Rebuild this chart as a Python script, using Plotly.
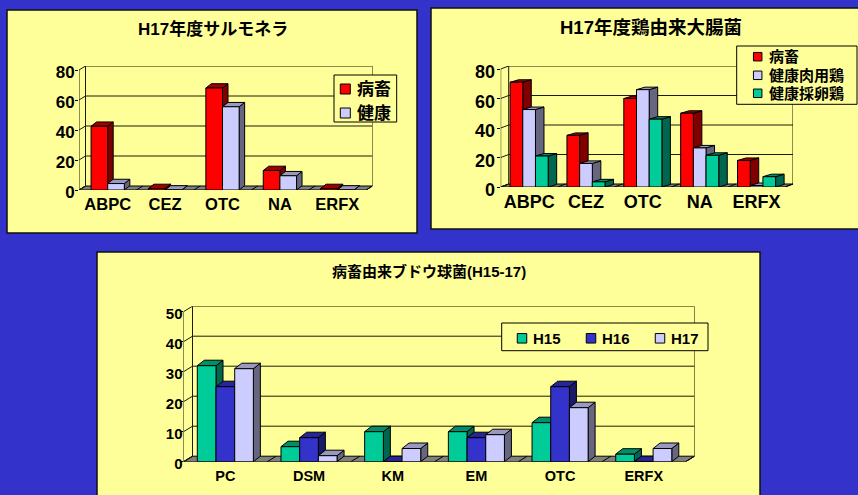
"""H17 耐性率 3D風棒グラフ 3枚 (Plotly)."""
import plotly.graph_objects as go

W, H = 858, 495
BLUE = "#3333CC"
YELLOW = "#FFFF99"
FONT = "Liberation Sans, Noto Sans CJK JP"

# 前面 / 上面 / 側面
RED = ("#FF0000", "#A00000", "#800000")
LILAC = ("#CCCCFF", "#9999BF", "#666680")
GREEN = ("#00CC99", "#008F6B", "#00664D")
NAVY = ("#3333CC", "#26269A", "#1A1A66")

sal_cats = ["ABPC", "CEZ", "OTC", "NA", "ERFX"]
sal_byochiku = [42.5, 1, 68, 13, 1]
sal_kenko = [4.3, 0, 55.5, 9.5, 0]

eco_cats = ["ABPC", "CEZ", "OTC", "NA", "ERFX"]
eco_byochiku = [71, 35, 60, 50, 18]
eco_broiler = [52.5, 16, 66, 26.5, 1]
eco_layer = [21, 3.5, 46, 21.5, 7]

sta_cats = ["PC", "DSM", "KM", "EM", "OTC", "ERFX"]
sta_h15 = [32, 5, 10, 10, 13, 2.5]
sta_h16 = [25, 8, 0, 8, 25, 0]
sta_h17 = [31, 2, 4.4, 9, 18, 4.4]

panels = [
    dict(title="H17年度サルモネラ", tx=213, ty=29, tsize=17,
         box=(7, 10, 417, 233), left=79, right=366, wall=(6.5, 4), depth=(5.5, 4.3),
         y0=190, ppu=1.5, ymax=80, dtick=20, group=0.58, cats=sal_cats,
         xsize=16.5, ysize=17, xoff=2, yoff=-3, yshift=2,
         series=[("病畜", sal_byochiku, RED), ("健康", sal_kenko, LILAC)],
         legend=dict(box=(334, 75, 396.7, 122), size=17, sw=10,
                     swx=[345.3, 345.3], cy=[89, 113], tx=[354.5, 354.5])),
    dict(title="H17年度鶏由来大腸菌", tx=651, ty=27, tsize=18.5,
         box=(431, 8, 870, 229), left=500.7, right=785, wall=(8, 3), depth=(8.5, 2.5),
         y0=187, ppu=1.475, ymax=80, dtick=20, group=0.67, cats=eco_cats,
         xsize=18, ysize=18, xoff=2, yoff=-2, yshift=3,
         series=[("病畜", eco_byochiku, RED), ("健康肉用鶏", eco_broiler, LILAC),
                 ("健康採卵鶏", eco_layer, GREEN)],
         legend=dict(box=(736.7, 46, 857, 104.3), size=15, sw=8.5,
                     swx=[757.7, 757.7, 757.7], cy=[56.7, 75.3, 93.3], tx=[767, 767, 767])),
    dict(title="病畜由来ブドウ球菌(H15-17)", tx=429, ty=271, tsize=15,
         box=(97, 252, 760, 510), left=183.5, right=685.6, wall=(9, 5.5), depth=(7, 5.5),
         y0=461.7, ppu=3.0, ymax=50, dtick=10, group=0.67, cats=sta_cats,
         xsize=14.5, ysize=15, xoff=4, yoff=-6, yshift=2,
         series=[("H15", sta_h15, GREEN), ("H16", sta_h16, NAVY), ("H17", sta_h17, LILAC)],
         legend=dict(box=(501.7, 323, 708, 350.7), size=15, sw=9.5,
                     swx=[522, 591, 660], cy=[338.3, 338.3, 338.3], tx=[531, 600, 669])),
]


def poly(pts, xref, yref, fill, line="black"):
    path = "M" + "L".join(f"{x:.4f},{y:.4f}" for x, y in pts) + "Z"
    return dict(type="path", path=path, xref=xref, yref=yref, layer="below",
                fillcolor=fill, line=dict(color=line, width=1))


def seg(x0, y0, x1, y1, xref, yref, color="#1c1c08"):
    return dict(type="line", x0=x0, y0=y0, x1=x1, y1=y1, xref=xref, yref=yref,
                layer="below", line=dict(color=color, width=1))


def paper_rect(x0, y0, x1, y1, fill, layer, width=1, color="black"):
    return dict(type="rect", xref="paper", yref="paper", layer=layer,
                x0=x0 / W, x1=x1 / W, y0=1 - y1 / H, y1=1 - y0 / H,
                fillcolor=fill, line=dict(color=color, width=width))


fig = go.Figure()
shapes, annots, layout_axes = [], [], {}

for i, p in enumerate(panels):
    sfx = "" if i == 0 else str(i + 1)
    xref, yref = "x" + sfx, "y" + sfx
    n = len(p["cats"])
    catw = (p["right"] - p["left"]) / n
    wx, wy = p["wall"][0] / catw, p["wall"][1] / p["ppu"]
    bx, by = p["depth"][0] / catw, p["depth"][1] / p["ppu"]
    x_lo, x_hi = -0.5, n - 0.5 + wx
    y_hi = p["ymax"] + wy

    # パネル背景
    shapes.append(paper_rect(*p["box"], YELLOW, "below", 1.5, "#101010"))

    # 床・壁・目盛線
    shapes.append(poly([(x_lo, 0), (n - 0.5, 0), (x_hi, wy), (x_lo + wx, wy)], xref, yref, "#808080"))
    for k in range(n + 1):
        shapes.append(seg(k - 0.5, 0, k - 0.5 + wx, wy, xref, yref, "black"))
    tick = 0
    while tick <= p["ymax"]:
        if tick > 0:
            shapes.append(seg(x_lo + wx, tick + wy, x_hi, tick + wy, xref, yref))
        shapes.append(seg(x_lo, tick, x_lo + wx, tick + wy, xref, yref))
        tick += p["dtick"]
    shapes.append(seg(x_lo, 0, x_lo, p["ymax"], xref, yref))
    shapes.append(seg(x_lo + wx, wy, x_lo + wx, y_hi, xref, yref))
    shapes.append(seg(x_hi, wy, x_hi, y_hi, xref, yref))

    # 棒: 前面は Bar、上面と側面は値から計算した面
    w = p["group"] / len(p["series"])
    for s, (name, vals, cols) in enumerate(p["series"]):
        off = -p["group"] / 2 + s * w
        fig.add_trace(go.Bar(
            x=list(range(n)), y=vals, width=w, offset=off, name=name, showlegend=False,
            marker=dict(color=cols[0], line=dict(color="black", width=1)),
            xaxis=xref, yaxis=yref,
        ))
        for k, v in enumerate(vals):
            xl, xr = k + off, k + off + w
            shapes.append(poly([(xr, 0), (xr + bx, by), (xr + bx, v + by), (xr, v)], xref, yref, cols[2]))
            shapes.append(poly([(xl, v), (xr, v), (xr + bx, v + by), (xl + bx, v + by)], xref, yref, cols[1]))

    ytop = p["y0"] - y_hi * p["ppu"]
    layout_axes["xaxis" + sfx] = dict(
        domain=[p["left"] / W, (p["right"] + p["wall"][0]) / W], range=[x_lo, x_hi],
        anchor=yref, tickmode="array", tickvals=list(range(n)), ticktext=p["cats"],
        showgrid=False, zeroline=False, showline=False, ticks="", ticklabelstandoff=p["xoff"],
        tickfont=dict(family=FONT, size=p["xsize"], color="black", weight=700),
        fixedrange=True,
    )
    layout_axes["yaxis" + sfx] = dict(
        domain=[1 - p["y0"] / H, 1 - ytop / H], range=[0, y_hi], anchor=xref,
        tickmode="array", tickvals=list(range(0, p["ymax"] + 1, p["dtick"])),
        showgrid=False, zeroline=False, showline=False, ticks="outside", ticklen=3,
        tickcolor="black", ticklabelstandoff=p["yoff"], ticklabelshift=p["yshift"],
        tickfont=dict(family=FONT, size=p["ysize"], color="black", weight=700),
        fixedrange=True,
    )

    # 凡例
    lg = p["legend"]
    shapes.append(paper_rect(*lg["box"], YELLOW, "above"))
    for (name, _, cols), sx, cy, tx in zip(p["series"], lg["swx"], lg["cy"], lg["tx"]):
        r = lg["sw"] / 2
        shapes.append(paper_rect(sx - r, cy - r, sx + r, cy + r, cols[0], "above"))
        annots.append(dict(text=f"<b>{name}</b>", xref="paper", yref="paper", x=tx / W, y=1 - cy / H,
                           showarrow=False, xanchor="left", yanchor="middle",
                           font=dict(family=FONT, size=lg["size"], color="black")))

    annots.append(dict(text=f"<b>{p['title']}</b>", xref="paper", yref="paper",
                       x=p["tx"] / W, y=1 - p["ty"] / H, showarrow=False, xanchor="center",
                       yanchor="middle", font=dict(family=FONT, size=p["tsize"], color="black")))

fig.update_layout(
    width=W, height=H, margin=dict(l=0, r=0, t=0, b=0, autoexpand=False), paper_bgcolor=BLUE,
    plot_bgcolor="rgba(0,0,0,0)", barmode="overlay", shapes=shapes, annotations=annots,
    **layout_axes,
)
fig.write_html("out.html", config=dict(displayModeBar=False),
               post_script="document.body.style.margin='0';document.body.style.background='#3333CC';")
